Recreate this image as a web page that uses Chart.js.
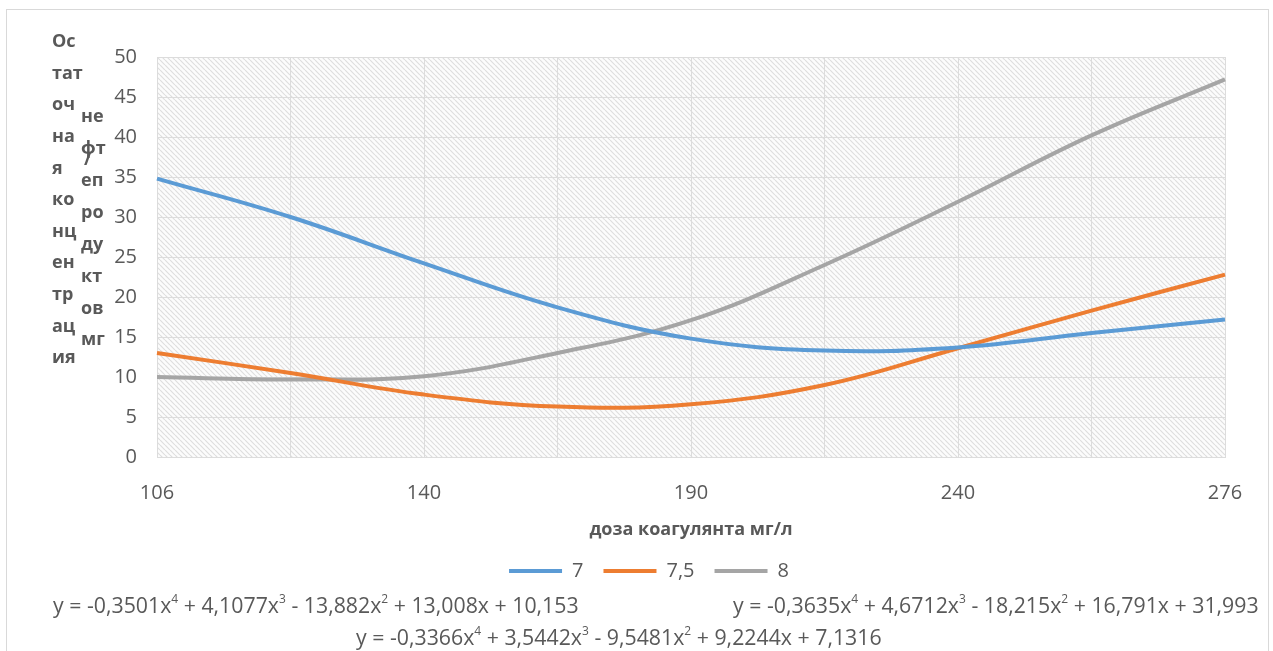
<!DOCTYPE html>
<html>
<head>
<meta charset="utf-8">
<script src="https://cdn.jsdelivr.net/npm/chart.js@4.4.0/dist/chart.umd.min.js"></script>
<style>
  body { margin: 0; background: #fff; }
  #wrap { position: relative; width: 1273px; height: 651px; overflow: hidden; font-family: "Open Sans"; color: #595959; }
  #frame { position: absolute; left: 6px; top: 9px; width: 1261px; height: 700px; border: 1px solid #d9d9d9; }
  canvas { position: absolute; left: 0; top: 0; }
  .eq { position: absolute; font-size: 21.3px; line-height: 24px; white-space: nowrap; }
  .eq sup { font-size: 12px; line-height: 0; position: relative; top: -2px; }
</style>
</head>
<body>
<div id="wrap">
  <div id="frame"></div>
  <canvas id="chart" width="1273" height="651"></canvas>
  <div class="eq" style="left:53px;top:593px">y = -0,3501x<sup>4</sup> + 4,1077x<sup>3</sup> - 13,882x<sup>2</sup> + 13,008x + 10,153</div>
  <div class="eq" style="left:733px;top:593px">y = -0,3635x<sup>4</sup> + 4,6712x<sup>3</sup> - 18,215x<sup>2</sup> + 16,791x + 31,993</div>
  <div class="eq" style="left:356px;top:625px">y = -0,3366x<sup>4</sup> + 3,5442x<sup>3</sup> - 9,5481x<sup>2</sup> + 9,2244x + 7,1316</div>
</div>
<script>
// доза коагулянта, подписи через одну
var doseLabels = ['106', '', '140', '', '190', '', '240', '', '276'];

// остаточная концентрация по сериям (pH)
var ph7  = [34.8, 30.0, 24.2, 18.7, 14.8, 13.3, 13.7, 15.5, 17.2];
var ph75 = [13.0, 10.5, 7.8, 6.3, 6.6, 9.0, 13.6, 18.3, 22.8];
var ph8  = [10.0, 9.7, 10.1, 13.0, 17.1, 24.0, 31.9, 40.2, 47.2];

var seriesNames = ['7', '7,5', '8'];

// подпись оси Y как в оригинале - разбита по слогам
var titleCol1 = ['Ос', 'тат', 'оч', 'на', 'я', 'ко', 'нц', 'ен', 'тр', 'ац', 'ия'];
var titleCol2 = ['не', 'фт', 'еп', 'ро', 'ду', 'кт', 'ов', 'мг'];

var grey = '#595959';
var gridColor = '#dcdcdc';

// штриховка области построения
var hatchPlugin = {
  id: 'hatch',
  beforeDraw: function(chart) {
    var a = chart.chartArea, ctx = chart.ctx;
    var c = document.createElement('canvas');
    c.width = 5; c.height = 5;
    var g = c.getContext('2d');
    g.fillStyle = '#fcfcfc';
    g.fillRect(0, 0, 5, 5);
    g.strokeStyle = '#dedede';
    g.lineWidth = 1.2;
    g.beginPath();
    [-5, 0, 5].forEach(function(o) { g.moveTo(o, 0); g.lineTo(o + 5, 5); });
    g.stroke();
    ctx.save();
    ctx.fillStyle = ctx.createPattern(c, 'repeat');
    ctx.fillRect(a.left, a.top, a.right - a.left, a.bottom - a.top);
    ctx.restore();
  }
};

var yTitlePlugin = {
  id: 'yTitle',
  afterDraw: function(chart) {
    var ctx = chart.ctx;
    ctx.save();
    ctx.font = 'bold 18px "Open Sans"';
    ctx.fillStyle = grey;
    ctx.textBaseline = 'middle';
    titleCol1.forEach(function(s, i) { ctx.fillText(s, 52, 42 + i * 31.6); });
    titleCol2.forEach(function(s, i) { ctx.fillText(s, 81, 117 + i * 31.9); });
    ctx.fillText('/', 84, 160);
    ctx.restore();
  }
};

var tickFont = { family: 'Open Sans', size: 20 };

new Chart(document.getElementById('chart'), {
  type: 'line',
  data: {
    labels: doseLabels,
    datasets: [
      { label: seriesNames[0], data: ph7, borderColor: '#5B9BD5', backgroundColor: '#5B9BD5', borderWidth: 4 },
      { label: seriesNames[1], data: ph75, borderColor: '#ED7D31', backgroundColor: '#ED7D31', borderWidth: 4 },
      { label: seriesNames[2], data: ph8, borderColor: '#A5A5A5', backgroundColor: '#A5A5A5', borderWidth: 4 }
    ]
  },
  options: {
    responsive: false,
    animation: false,
    layout: { padding: { top: 57, right: 48, bottom: 60, left: 73 } },
    elements: {
      line: { tension: 0.4, cubicInterpolationMode: 'default' },
      point: { radius: 0 }
    },
    plugins: {
      legend: {
        position: 'bottom',
        labels: {
          usePointStyle: true,
          pointStyle: 'line',
          pointStyleWidth: 53,
          padding: 20,
          color: grey,
          font: tickFont
        }
      },
      tooltip: { enabled: false }
    },
    scales: {
      x: {
        grid: { color: gridColor, drawTicks: false },
        border: { color: gridColor },
        ticks: { autoSkip: false, maxRotation: 0, padding: 24, color: grey, font: tickFont },
        title: {
          display: true,
          text: 'доза коагулянта мг/л',
          color: grey,
          font: { family: 'Open Sans', size: 18, weight: 'bold' },
          padding: { top: 0, bottom: 0 }
        },
        afterFit: function(s) { s.height = 84; }
      },
      y: {
        min: 0,
        max: 50,
        grid: { color: gridColor, drawTicks: false },
        border: { display: false },
        ticks: { stepSize: 5, padding: 20, color: grey, font: tickFont },
        afterFit: function(s) { s.width = 84; }
      }
    }
  },
  plugins: [hatchPlugin, yTitlePlugin]
});
</script>
</body>
</html>
